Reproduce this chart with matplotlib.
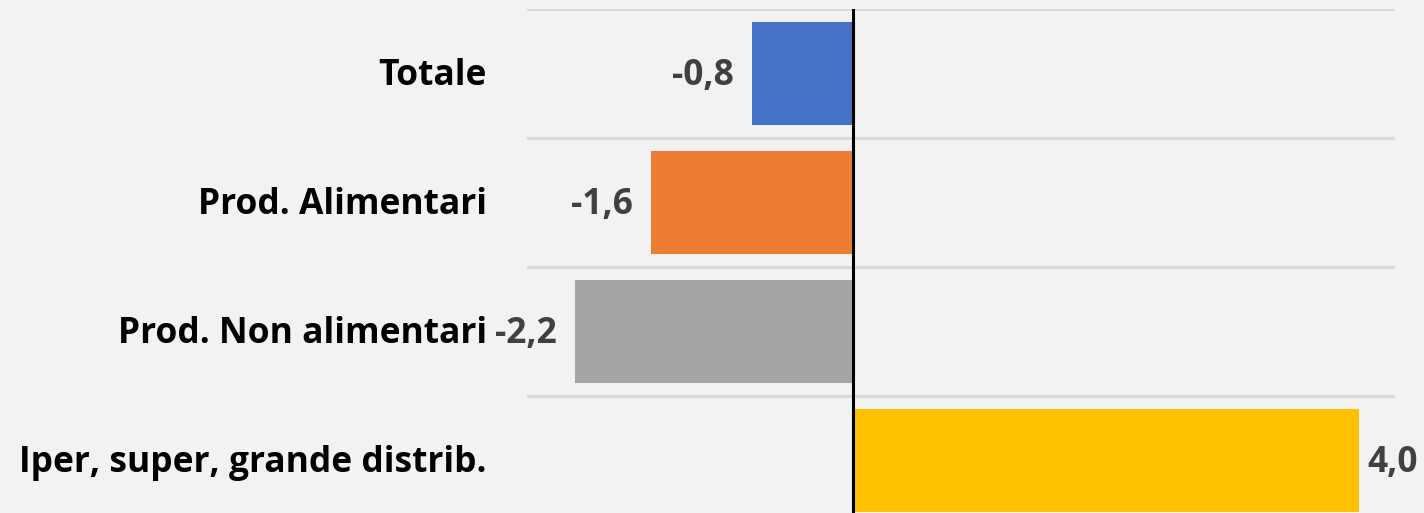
import matplotlib
matplotlib.use("Agg")
import matplotlib.pyplot as plt

categories = ["Totale", "Prod. Alimentari", "Prod. Non alimentari", "Iper, super, grande distrib."]
values = [-0.8, -1.6, -2.2, 4.0]
labels = ["-0,8", "-1,6", "-2,2", "4,0"]
colors = ["#4472C4", "#ED7D31", "#A5A5A5", "#FFC000"]

W, H = 1424, 513
fig = plt.figure(figsize=(W / 100, H / 100), dpi=100)
fig.patch.set_facecolor("#F2F2F2")

left, right, top, bottom = 527, 1395, 9, 513
ax = fig.add_axes([left / W, 1 - bottom / H, (right - left) / W, (bottom - top) / H])
ax.set_facecolor("#F2F2F2")

pos = list(range(len(categories)))
ax.barh(pos, values, height=0.8, color=colors, zorder=2)

band = 129.0
ax.set_ylim(-0.5 + (bottom - top) / band, -0.5)
ax.set_xlim(-(853 - left) / 126.5, (right - 853) / 126.5)

for b in [-0.5, 0.5, 1.5, 2.5, 3.5]:
    ax.axhline(b, color="#D9D9D9", lw=2.2, zorder=1)
ax.axvline(0, color="black", lw=2.2, zorder=3)

for s in ax.spines.values():
    s.set_visible(False)
ax.set_xticks([])
ax.set_yticks([])

font = "Open Sans"
fs = 25.5
dy = -2
for p, v, lab, cat in zip(pos, values, labels, categories):
    ax.annotate(cat, xy=(0, p), xycoords=("axes fraction", "data"),
                xytext=(-29, dy), textcoords="offset points",
                ha="right", va="center", fontsize=fs, fontweight="bold",
                family=font, color="black")
    if v < 0:
        ax.annotate(lab, xy=(v, p), xytext=(-13, dy), textcoords="offset points",
                    ha="right", va="center", fontsize=fs, fontweight="bold",
                    family=font, color="#404040")
    else:
        ax.annotate(lab, xy=(v, p), xytext=(6, dy), textcoords="offset points",
                    ha="left", va="center", fontsize=fs, fontweight="bold",
                    family=font, color="#404040")

fig.savefig("out.png", dpi=100, facecolor=fig.get_facecolor())
